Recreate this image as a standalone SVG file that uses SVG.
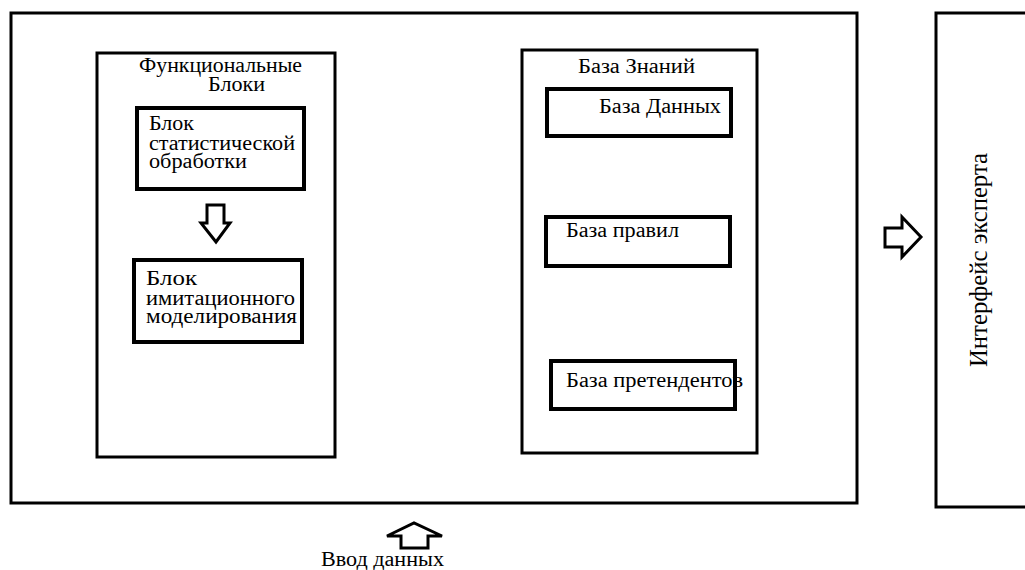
<svg xmlns="http://www.w3.org/2000/svg" width="1025" height="570" viewBox="0 0 1025 570">
<rect width="1025" height="570" fill="#fff"/>
<g id="system" fill="#fff" stroke="#000" stroke-width="3"><rect x="11" y="13" width="846" height="490"/></g>
<g id="functional-blocks">
<rect x="97" y="53" width="238" height="404" fill="#fff" stroke="#000" stroke-width="3"/>
<text x="139" y="72" font-family="'Times New Roman', 'Liberation Serif', Tinos, serif" font-size="20" textLength="163" lengthAdjust="spacingAndGlyphs">Функциональные</text>
<text x="208" y="91" font-family="'Times New Roman', 'Liberation Serif', Tinos, serif" font-size="20" textLength="57" lengthAdjust="spacingAndGlyphs">Блоки</text>
</g>
<g id="stat-block">
<rect x="137" y="108" width="167" height="81" fill="#fff" stroke="#000" stroke-width="4"/>
<text x="149" y="130" font-family="'Times New Roman', 'Liberation Serif', Tinos, serif" font-size="20" textLength="45" lengthAdjust="spacingAndGlyphs">Блок</text>
<text x="149" y="150" font-family="'Times New Roman', 'Liberation Serif', Tinos, serif" font-size="20" textLength="146" lengthAdjust="spacingAndGlyphs">статистической</text>
<text x="149" y="168" font-family="'Times New Roman', 'Liberation Serif', Tinos, serif" font-size="20" textLength="98" lengthAdjust="spacingAndGlyphs">обработки</text>
</g>
<g id="sim-block">
<rect x="134" y="260" width="168" height="82" fill="#fff" stroke="#000" stroke-width="4"/>
<text x="146" y="285" font-family="'Times New Roman', 'Liberation Serif', Tinos, serif" font-size="20" textLength="51" lengthAdjust="spacingAndGlyphs">Блок</text>
<text x="146" y="305" font-family="'Times New Roman', 'Liberation Serif', Tinos, serif" font-size="20" textLength="149" lengthAdjust="spacingAndGlyphs">имитационного</text>
<text x="146" y="323" font-family="'Times New Roman', 'Liberation Serif', Tinos, serif" font-size="20" textLength="151" lengthAdjust="spacingAndGlyphs">моделирования</text>
</g>
<g id="knowledge-base">
<rect x="522" y="50" width="235" height="403" fill="#fff" stroke="#000" stroke-width="3"/>
<text x="578" y="73" font-family="'Times New Roman', 'Liberation Serif', Tinos, serif" font-size="20" textLength="117" lengthAdjust="spacingAndGlyphs">База Знаний</text>
</g>
<g id="database">
<rect x="547" y="89" width="184" height="47" fill="#fff" stroke="#000" stroke-width="4"/>
<text x="599" y="113" font-family="'Times New Roman', 'Liberation Serif', Tinos, serif" font-size="20" textLength="122" lengthAdjust="spacingAndGlyphs">База Данных</text>
</g>
<g id="rules">
<rect x="546" y="217" width="184" height="49" fill="#fff" stroke="#000" stroke-width="4"/>
<text x="566" y="237" font-family="'Times New Roman', 'Liberation Serif', Tinos, serif" font-size="20" textLength="113" lengthAdjust="spacingAndGlyphs">База правил</text>
</g>
<g id="candidates">
<rect x="551" y="361" width="184" height="48" fill="#fff" stroke="#000" stroke-width="4"/>
<text x="566" y="387" font-family="'Times New Roman', 'Liberation Serif', Tinos, serif" font-size="20" textLength="177" lengthAdjust="spacingAndGlyphs">База претендентов</text>
</g>
<g id="expert-interface">
<rect x="936" y="13" width="100" height="494" fill="#fff" stroke="#000" stroke-width="3"/>
<text transform="translate(987,260) rotate(-90)" text-anchor="middle" font-family="'Times New Roman', 'Liberation Serif', Tinos, serif" font-size="26" textLength="214" lengthAdjust="spacingAndGlyphs">Интерфейс эксперта</text>
</g>
<g id="input-label"><text x="321" y="566" font-family="'Times New Roman', 'Liberation Serif', Tinos, serif" font-size="20" textLength="123" lengthAdjust="spacingAndGlyphs">Ввод данных</text></g>
<g id="connectors" fill="#fff" stroke="#000" stroke-width="3">
<polygon points="207,205 224,205 224,223 230,223 216,242 201,223 207,223"/>
<polygon points="885,228 902,228 902,217 921,237 902,257 902,247 885,247"/>
<polygon points="401,548 428,548 428,536 442,536 414,523 387,536 401,536"/>
</g>
</svg>
